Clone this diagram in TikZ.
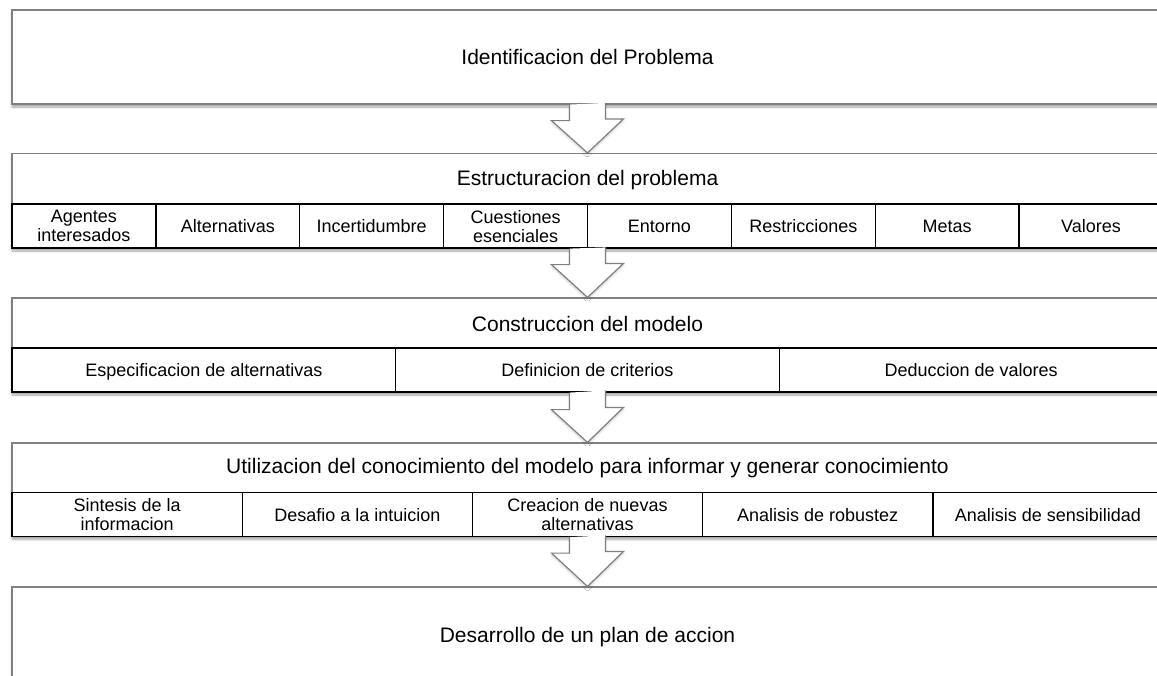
\documentclass[tikz,border=0pt]{standalone}
\usepackage{fontspec}
\setmainfont{Liberation Sans}
\usetikzlibrary{positioning, shadows.blur}
\definecolor{frame-gray}{gray}{.5}
\tikzstyle{stage} = [rectangle, minimum width=1151pt, draw=frame-gray, line width=1.2pt,
    fill=white, font=\fontsize{21}{24}\selectfont,
    blur shadow={shadow xshift=0pt, shadow yshift=-3pt, shadow blur steps=6, shadow opacity=35}]
\tikzstyle{stagetitle} = [font=\fontsize{21}{24}\selectfont]
\tikzstyle{cell} = [rectangle, minimum height=44pt, inner sep=0pt, outer sep=0pt,
    draw=black, line width=1.4pt, fill=white, align=center, font=\fontsize{18}{19}\selectfont,
    execute at begin node=\rule{0pt}{13pt}, text depth=0pt]
\tikzstyle{cell8} = [cell, minimum width=143.875pt]
\tikzstyle{cell3} = [cell, minimum width=383.667pt]
\tikzstyle{cell5} = [cell, minimum width=230.2pt]
\tikzstyle{hollow} = [draw=frame-gray, line width=1.2pt, fill=white,
    blur shadow={shadow xshift=0pt, shadow yshift=-2pt, shadow blur steps=4, shadow opacity=20}]

\begin{document}
\begin{tikzpicture}[x=1pt, y=1pt]

    \useasboundingbox (0,0) rectangle (1157,-675);
    \clip (0,0) rectangle (1157,-675);

    % ===============================
    % 1. STAGES
    % ===============================

    \node[stage, minimum height=94pt] (ident) at (587.5,-57) {Identificacion del Problema};

    \node[stage, minimum height=94.5pt] (estruct) at (587.5,-200.75) {};
    \node[stagetitle] (estruct_title) at (587.5,-180) {Estructuracion del problema};

    \node[stage, minimum height=94pt] (constr) at (587.5,-345) {};
    \node[stagetitle] (constr_title) at (587.5,-324) {Construccion del modelo};

    \node[stage, minimum height=93.5pt] (utiliz) at (587.5,-489.75) {};
    \node[stagetitle] (utiliz_title) at (587.5,-468) {Utilizacion del conocimiento del modelo para informar y generar conocimiento};

    \node[stage, minimum height=100pt] (plan) at (587.5,-637) {Desarrollo de un plan de accion};

    % -------------------------------
    % CELLS: Estructuracion
    % -------------------------------
    \node[cell8] (agentes) at (83.94,-226) {Agentes\\interesados};
    \node[cell8, right=0pt of agentes] (alternativas) {Alternativas};
    \node[cell8, right=0pt of alternativas] (incert) {Incertidumbre};
    \node[cell8, right=0pt of incert] (cuestiones) {Cuestiones\\esenciales};
    \node[cell8, right=0pt of cuestiones] (entorno) {Entorno};
    \node[cell8, right=0pt of entorno] (restric) {Restricciones};
    \node[cell8, right=0pt of restric] (metas) {Metas};
    \node[cell8, right=0pt of metas] (valores) {Valores};

    % -------------------------------
    % CELLS: Construccion
    % -------------------------------
    \node[cell3] (especif) at (203.83,-370) {Especificacion de alternativas};
    \node[cell3, right=0pt of especif] (criterios) {Definicion de criterios};
    \node[cell3, right=0pt of criterios] (deduccion) {Deduccion de valores};

    % -------------------------------
    % CELLS: Utilizacion
    % -------------------------------
    \node[cell5] (sintesis) at (127.1,-514.5) {Sintesis de la\\informacion};
    \node[cell5, right=0pt of sintesis] (desafio) {Desafio a la intuicion};
    \node[cell5, right=0pt of desafio] (creacion) {Creacion de nuevas\\alternativas};
    \node[cell5, right=0pt of creacion] (robustez) {Analisis de robustez};
    \node[cell5, right=0pt of robustez] (sensib) {Analisis de sensibilidad};

    % ===============================
    % 2. CONNECTIONS
    % ===============================

    \path[hollow] ([xshift=-18pt]ident.south) -- ++(0,-16) -- ++(-18,0) -- (estruct.north)
        -- ++(36,34) -- ++(-18,0) -- ++(0,16);
    \path[hollow] ([xshift=-18pt]estruct.south) -- ++(0,-16) -- ++(-18,0) -- (constr.north)
        -- ++(36,34) -- ++(-18,0) -- ++(0,16);
    \path[hollow] ([xshift=-18pt]constr.south) -- ++(0,-17) -- ++(-18,0) -- (utiliz.north)
        -- ++(36,35) -- ++(-18,0) -- ++(0,17);
    \path[hollow] ([xshift=-18pt]utiliz.south) -- ++(0,-16) -- ++(-18,0) -- (plan.north)
        -- ++(36,35) -- ++(-18,0) -- ++(0,16);

\end{tikzpicture}
\end{document}
